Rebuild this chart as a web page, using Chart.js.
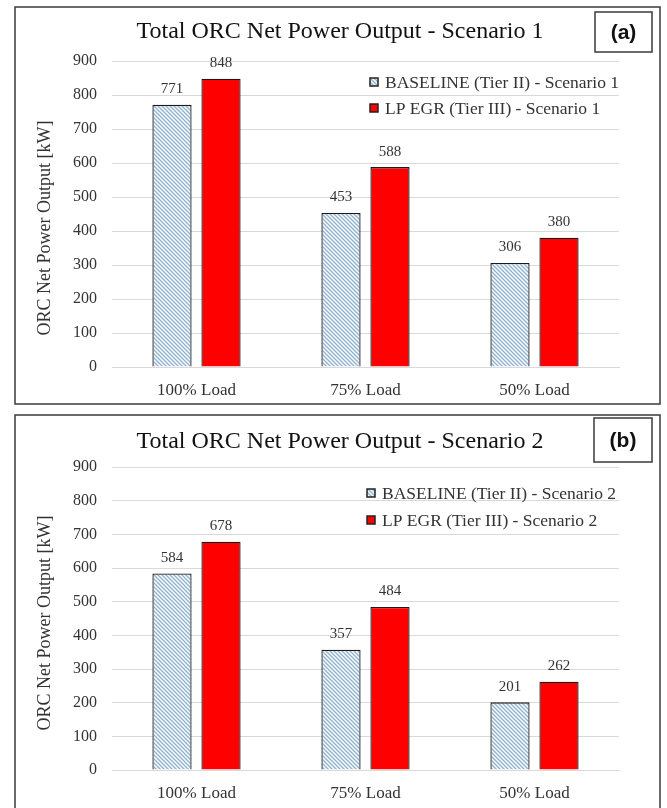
<!DOCTYPE html>
<html>
<head>
<meta charset="utf-8">
<script src="https://cdn.jsdelivr.net/npm/chart.js@4.4.1/dist/chart.umd.min.js"></script>
<style>
  body { margin: 0; background: #fff; }
  canvas { display: block; }
  .panel { position: absolute; left: 0; width: 667px; }
</style>
</head>
<body>
<div class="panel" style="top:0;height:405px"><canvas id="chartA"></canvas></div>
<div class="panel" style="top:405px;height:403px"><canvas id="chartB"></canvas></div>
<script>
// data
const categories = ['100% Load', '75% Load', '50% Load'];
const yTicks = [0, 100, 200, 300, 400, 500, 600, 700, 800, 900];
const baseline1 = [771, 453, 306];
const lpEgr1 = [848, 588, 380];
const baseline2 = [584, 357, 201];
const lpEgr2 = [678, 484, 262];

const SERIF = '"Liberation Serif", "Times New Roman", serif';
const TEXT = '#333333';

// light blue diagonal hatch for the baseline bars
function makeHatch() {
  const c = document.createElement('canvas');
  c.width = 4; c.height = 4;
  const g = c.getContext('2d');
  g.fillStyle = '#ffffff';
  g.fillRect(0, 0, 4, 4);
  g.strokeStyle = '#8fb2cf';
  g.lineWidth = 1.4;
  g.beginPath();
  g.moveTo(-1, -1); g.lineTo(5, 5);
  g.moveTo(-1, 3); g.lineTo(1, 5);
  g.moveTo(3, -1); g.lineTo(5, 1);
  g.stroke();
  return g.createPattern(c, 'repeat');
}

// frame, title, (a)/(b) tag, y title, legend and value labels
const decor = {
  id: 'decor',
  afterDatasetsDraw(chart, args, opts) {
    const ctx = chart.ctx;
    ctx.save();
    ctx.font = '15px ' + SERIF;
    ctx.fillStyle = TEXT;
    ctx.textAlign = 'center';
    ctx.textBaseline = 'bottom';
    chart.data.datasets.forEach((ds, i) => {
      chart.getDatasetMeta(i).data.forEach((bar, j) => {
        ctx.fillText(ds.data[j], bar.x, bar.y - 8);
      });
    });
    ctx.restore();
  },
  afterDraw(chart, args, opts) {
    const ctx = chart.ctx;
    ctx.save();
    // outer frame
    ctx.strokeStyle = '#3a3a3a';
    ctx.lineWidth = 1.5;
    ctx.strokeRect(opts.frame[0], opts.frame[1], opts.frame[2], opts.frame[3]);
    // tag box
    const t = opts.tagBox;
    ctx.strokeRect(t[0], t[1], t[2], t[3]);
    ctx.fillStyle = '#111';
    ctx.font = 'bold 21px "Liberation Sans", Arial, sans-serif';
    ctx.textAlign = 'center';
    ctx.textBaseline = 'middle';
    ctx.fillText(opts.tag, t[0] + t[2] / 2, t[1] + t[3] / 2 + 1);
    // title
    ctx.fillStyle = '#111';
    ctx.font = '24px ' + SERIF;
    ctx.textBaseline = 'alphabetic';
    ctx.fillText(opts.title, opts.titlePos[0], opts.titlePos[1]);
    // y axis title
    ctx.save();
    ctx.translate(opts.yTitlePos[0], opts.yTitlePos[1]);
    ctx.rotate(-Math.PI / 2);
    ctx.fillStyle = TEXT;
    ctx.font = '18px ' + SERIF;
    ctx.textBaseline = 'middle';
    ctx.fillText('ORC Net Power Output [kW]', 0, 0);
    ctx.restore();
    // legend
    ctx.font = '17.5px ' + SERIF;
    ctx.textAlign = 'left';
    ctx.textBaseline = 'middle';
    chart.data.datasets.forEach((ds, i) => {
      const y = opts.legendY[i];
      const x = opts.legendX;
      ctx.fillStyle = ds.backgroundColor;
      ctx.fillRect(x, y - 4, 8, 8);
      ctx.strokeStyle = '#222';
      ctx.lineWidth = 1.5;
      ctx.strokeRect(x, y - 4, 8, 8);
      ctx.fillStyle = TEXT;
      ctx.fillText(ds.label, x + 15, y + 1);
    });
    ctx.restore();
  }
};

function makeChart(id, base, lp, scen, deco, pad) {
  return new Chart(document.getElementById(id), {
    type: 'bar',
    data: {
      labels: categories,
      datasets: [{
        label: 'BASELINE (Tier II) - Scenario ' + scen,
        data: base,
        backgroundColor: makeHatch(),
        borderColor: '#1a1a1a',
        borderWidth: 1.3
      }, {
        label: 'LP EGR (Tier III) - Scenario ' + scen,
        data: lp,
        backgroundColor: '#ff0000',
        borderColor: '#1a1a1a',
        borderWidth: 1.3
      }]
    },
    options: {
      responsive: true,
      maintainAspectRatio: false,
      animation: false,
      categoryPercentage: 0.58,
      barPercentage: 0.8,
      layout: { padding: pad },
      plugins: {
        legend: { display: false },
        tooltip: { enabled: false },
        decor: deco
      },
      scales: {
        x: {
          grid: { display: false },
          border: { color: '#d9d9d9', width: 1 },
          ticks: { font: { family: SERIF, size: 17 }, color: TEXT, padding: 5 },
          afterFit: s => { s.height = 30; }
        },
        y: {
          min: 0,
          max: 900,
          afterBuildTicks: s => { s.ticks = yTicks.map(v => ({ value: v })); },
          grid: { color: '#d9d9d9', drawTicks: false },
          border: { display: false },
          ticks: { font: { family: SERIF, size: 16 }, color: TEXT, padding: 15 },
          afterFit: s => { s.width = 112; }
        }
      }
    },
    plugins: [decor]
  });
}

makeChart('chartA', baseline1, lpEgr1, 1, {
  frame: [15, 7, 645, 397],
  tagBox: [595, 12, 57, 40],
  tag: '(a)',
  title: 'Total ORC Net Power Output - Scenario 1',
  titlePos: [340, 38],
  yTitlePos: [45, 228],
  legendX: 370,
  legendY: [82, 108]
}, { left: 0, right: 48, top: 61, bottom: 8 });

makeChart('chartB', baseline2, lpEgr2, 2, {
  frame: [15, 10, 645, 420],
  tagBox: [594, 13, 58, 44],
  tag: '(b)',
  title: 'Total ORC Net Power Output - Scenario 2',
  titlePos: [340, 43],
  yTitlePos: [45, 218],
  legendX: 367,
  legendY: [88, 115]
}, { left: 0, right: 48, top: 62, bottom: 8 });
</script>
</body>
</html>
